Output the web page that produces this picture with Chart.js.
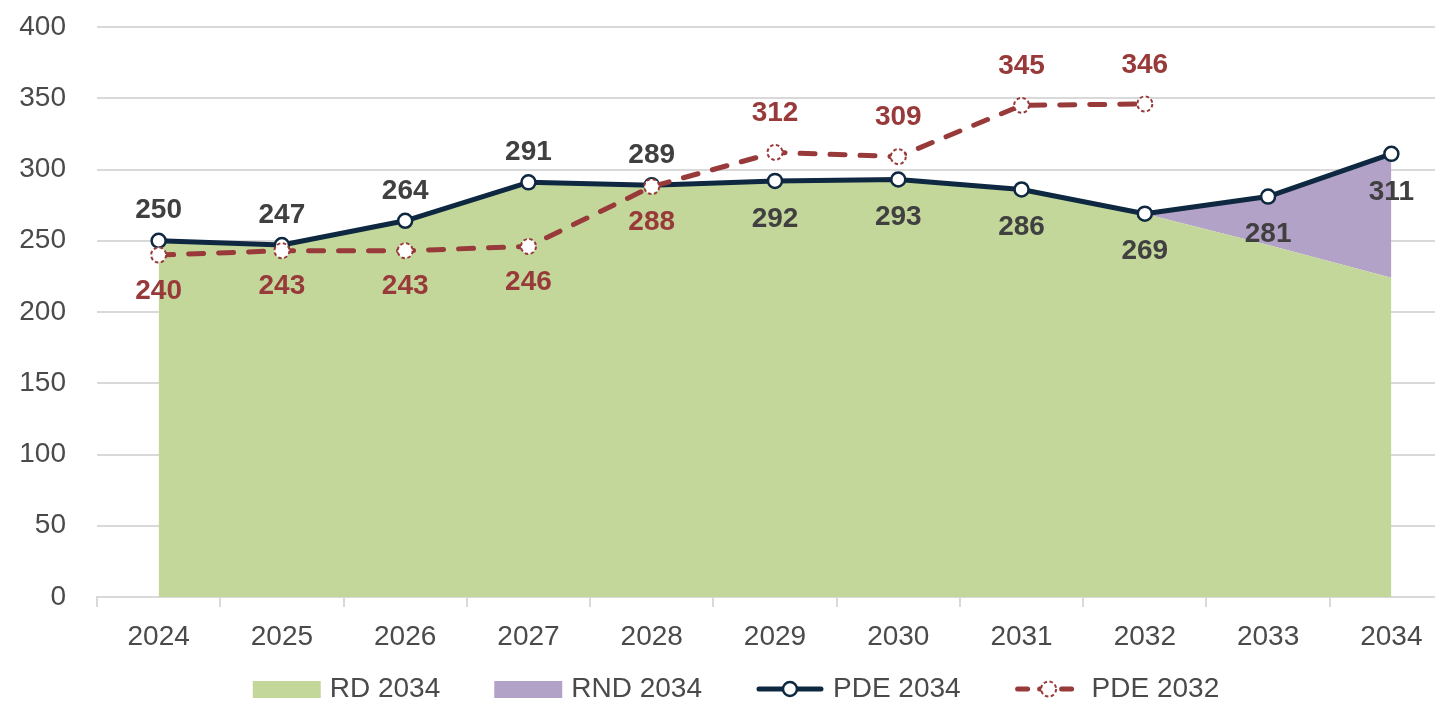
<!DOCTYPE html>
<html>
<head>
<meta charset="utf-8">
<script src="https://cdn.jsdelivr.net/npm/chart.js@4.4.1/dist/chart.umd.min.js"></script>
<style>
  html, body { margin: 0; padding: 0; background: #fff; overflow: hidden; }
  #wrap { width: 1472px; height: 701px; position: relative; }
</style>
</head>
<body>
<div id="wrap"><canvas id="chart"></canvas></div>
<script>
/* chart data */
const years   = ["2024", "2025", "2026", "2027", "2028", "2029", "2030", "2031", "2032", "2033", "2034"];
const rd2034  = [250, 247, 264, 291, 289, 292, 293, 286, 269, 247, 224];
const rnd2034 = [0, 0, 0, 0, 0, 0, 0, 0, 0, 34, 87];
const pde2034 = [250, 247, 264, 291, 289, 292, 293, 286, 269, 281, 311];
const pde2032 = [240, 243, 243, 246, 288, 312, 309, 345, 346, null, null];

const NAVY = "#0e2841";
const RED = "#983a3a";
const GREEN = "#c4d79b";
const PURPLE = "#b3a2c7";
const TEXT = "#4a4a4a";
const FONT = "'Liberation Sans', Arial, sans-serif";

Chart.defaults.font.family = FONT;
Chart.defaults.font.size = 28;

/* dashed circle markers for PDE 2032 */
function dashedMarker(ctx, x, y) {
  ctx.save();
  ctx.beginPath();
  ctx.arc(x, y, 7.5, 0, Math.PI * 2);
  ctx.fillStyle = "#fff";
  ctx.fill();
  ctx.setLineDash([3.5, 2.5]);
  ctx.lineWidth = 2;
  ctx.strokeStyle = RED;
  ctx.stroke();
  ctx.restore();
}

const markerPlugin = {
  id: "markers",
  afterDatasetsDraw(chart) {
    const ctx = chart.ctx;
    const meta = chart.getDatasetMeta(3);
    meta.data.forEach((pt, i) => {
      if (pde2032[i] == null) return;
      dashedMarker(ctx, pt.x, pt.y);
    });

    /* value labels */
    ctx.save();
    ctx.font = "bold 28px " + FONT;
    ctx.textAlign = "center";
    ctx.textBaseline = "middle";
    const navy = chart.getDatasetMeta(2);
    navy.data.forEach((pt, i) => {
      const other = pde2032[i];
      const above = other != null && pde2034[i] >= other;
      ctx.fillStyle = "#404040";
      ctx.fillText(pde2034[i], pt.x, above ? pt.y - 30 : pt.y + 38);
    });
    meta.data.forEach((pt, i) => {
      if (pde2032[i] == null) return;
      const above = pde2032[i] > pde2034[i];
      ctx.fillStyle = RED;
      ctx.fillText(pde2032[i], pt.x, above ? pt.y - 39 : pt.y + 36);
    });
    ctx.restore();
  }
};

/* legend drawn along the bottom */
const legendPlugin = {
  id: "bottomLegend",
  afterDraw(chart) {
    const ctx = chart.ctx;
    const sets = chart.data.datasets;
    const boxW = 68, gap = 9, spacing = 54, cy = 689;
    ctx.save();
    ctx.font = "28px " + FONT;
    const widths = sets.map(ds => boxW + gap + ctx.measureText(ds.label).width);
    const total = widths.reduce((a, b) => a + b, 0) + spacing * (sets.length - 1);
    let x = chart.width / 2 - total / 2;
    sets.forEach((ds, i) => {
      if (ds.fill) {
        ctx.fillStyle = ds.backgroundColor;
        ctx.fillRect(x, cy - 8, boxW, 17);
      } else {
        ctx.save();
        ctx.strokeStyle = ds.borderColor;
        ctx.lineWidth = ds.borderWidth;
        ctx.lineCap = "round";
        ctx.setLineDash(ds.borderDash ? [10, 12] : []);
        ctx.beginPath();
        ctx.moveTo(x + 3, cy);
        ctx.lineTo(x + boxW - 3, cy);
        ctx.stroke();
        ctx.restore();
        if (ds.borderDash) {
          dashedMarker(ctx, x + boxW / 2, cy);
        } else {
          ctx.beginPath();
          ctx.arc(x + boxW / 2, cy, 7, 0, Math.PI * 2);
          ctx.fillStyle = "#fff";
          ctx.fill();
          ctx.lineWidth = 2.5;
          ctx.strokeStyle = ds.borderColor;
          ctx.stroke();
        }
      }
      ctx.fillStyle = TEXT;
      ctx.textBaseline = "middle";
      ctx.textAlign = "left";
      ctx.fillText(ds.label, x + boxW + gap, cy);
      x += widths[i] + spacing;
    });
    ctx.restore();
  }
};

const ctx = document.getElementById("chart").getContext("2d");

new Chart(ctx, {
  type: "line",
  data: {
    labels: years,
    datasets: [
      {
        label: "RD 2034",
        data: rd2034,
        stack: "area",
        fill: "origin",
        backgroundColor: GREEN,
        borderWidth: 0,
        pointRadius: 0,
        order: 2
      },
      {
        label: "RND 2034",
        data: rnd2034,
        stack: "area",
        fill: "-1",
        backgroundColor: PURPLE,
        borderWidth: 0,
        pointRadius: 0,
        order: 3
      },
      {
        label: "PDE 2034",
        data: pde2034,
        stack: "p34",
        fill: false,
        borderColor: NAVY,
        borderWidth: 5,
        borderJoinStyle: "round",
        pointRadius: 7,
        pointBorderWidth: 2.5,
        pointBackgroundColor: "#fff",
        pointBorderColor: NAVY,
        order: 1
      },
      {
        label: "PDE 2032",
        data: pde2032,
        stack: "p32",
        fill: false,
        borderColor: RED,
        borderWidth: 5,
        borderDash: [15, 15],
        borderCapStyle: "round",
        pointRadius: 0,
        order: 0
      }
    ]
  },
  options: {
    responsive: true,
    maintainAspectRatio: false,
    animation: false,
    layout: { padding: { top: 27, right: 19, bottom: 44, left: 0 } },
    plugins: {
      legend: { display: false },
      tooltip: { enabled: false }
    },
    scales: {
      x: {
        offset: true,
        grid: { offset: true, drawOnChartArea: false, drawTicks: true, tickLength: 10, color: "#d9d9d9", lineWidth: 2 },
        border: { color: "#d9d9d9", width: 2 },
        ticks: { color: TEXT, padding: 13, maxRotation: 0 },
        afterFit: s => { s.height = 60; }
      },
      y: {
        stacked: true,
        min: 0,
        max: 400,
        ticks: { stepSize: 50, color: TEXT, padding: 0 },
        grid: { color: "#d9d9d9", lineWidth: 2, drawTicks: true, tickLength: 31, tickColor: "rgba(0,0,0,0)" },
        border: { display: false },
        afterFit: s => { s.width = 97; }
      }
    }
  },
  plugins: [markerPlugin, legendPlugin]
});
</script>
</body>
</html>
